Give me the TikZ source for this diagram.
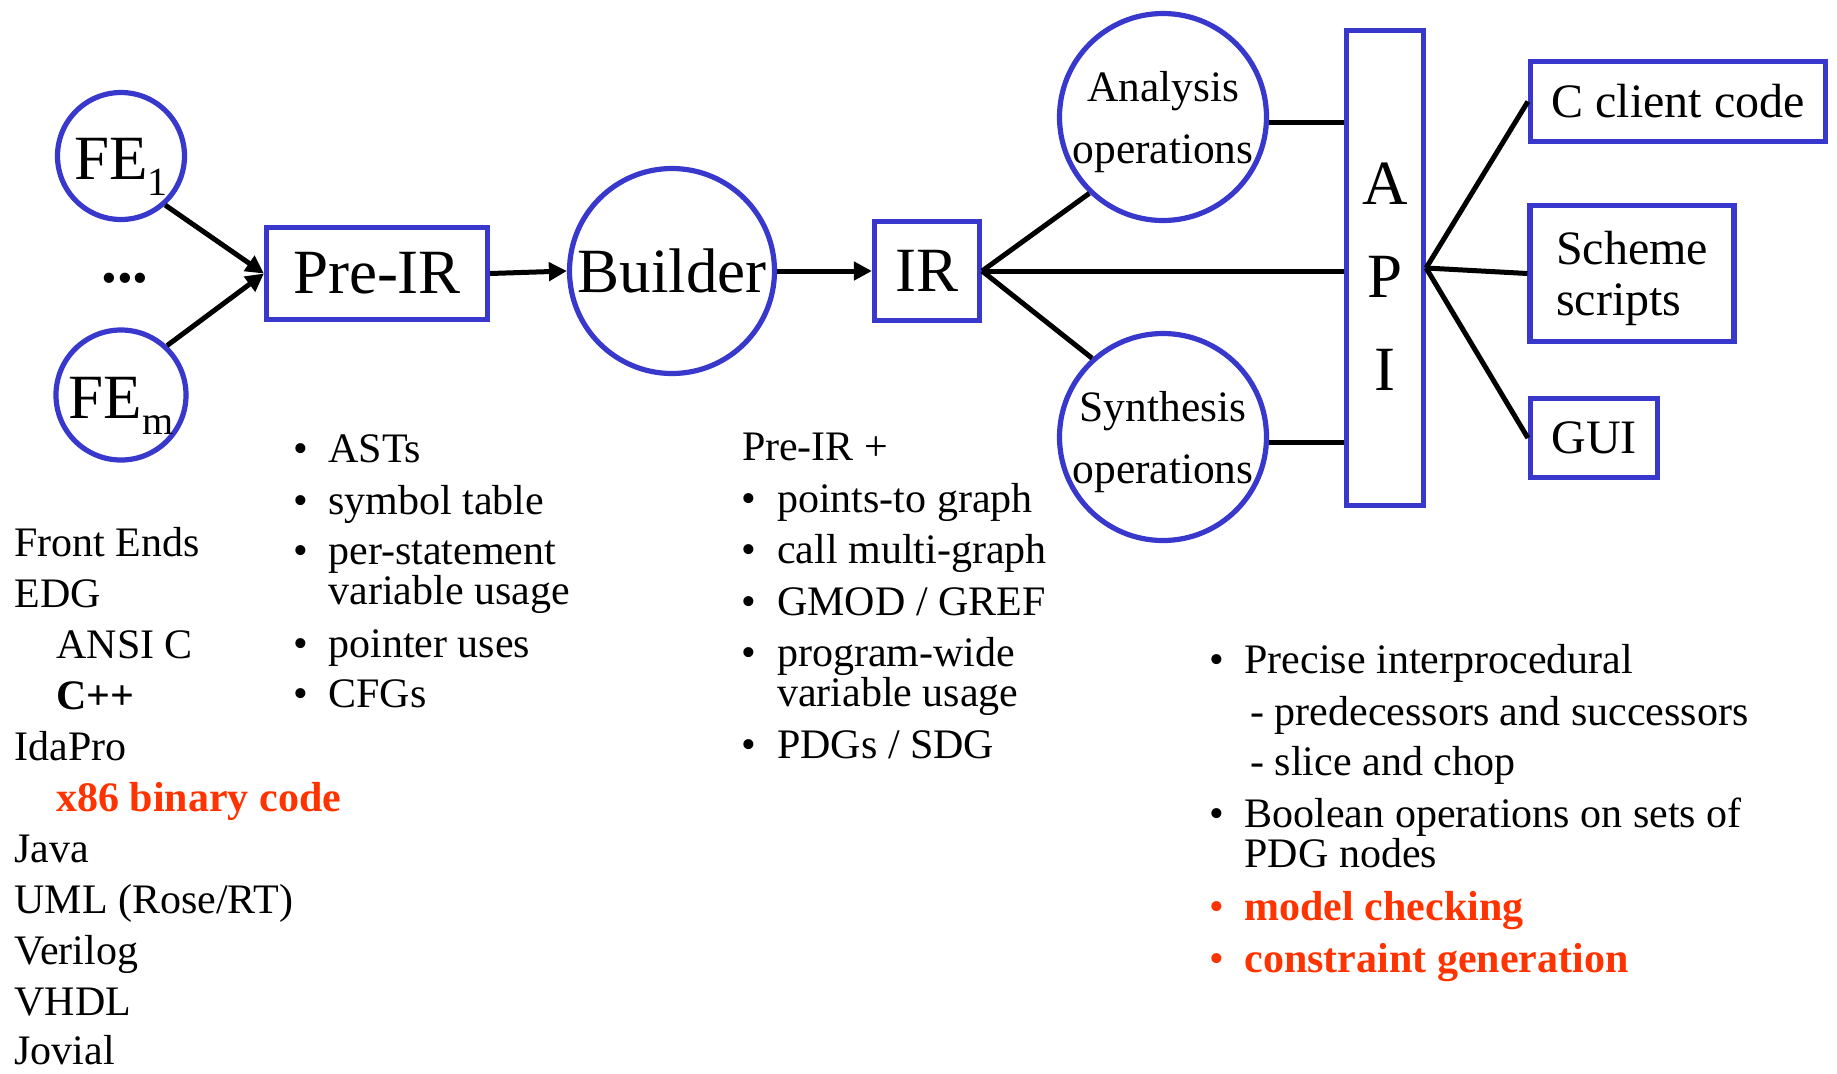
\documentclass[tikz,border=0pt]{standalone}
\usepackage{fontspec}
\setmainfont{Liberation Serif}
\usetikzlibrary{arrows.meta}
\definecolor{nodeblue}{RGB}{56,56,204}
\definecolor{hot}{RGB}{255,51,0}
\newcommand\lbl[4]{\node[lst] (#1) at (#2,#3) {#4};}
\newcommand\blt[6]{\node[lst,#6] (#1b) at (#2-6,#4) {\textbullet}; \node[lst,#6] (#1) at (#3,#4) {#5};}
\begin{document}
\begin{tikzpicture}[x=0.5pt,y=-0.5pt,
  blueline/.style={draw=nodeblue,line width=2.6pt},
  circ/.style={blueline,circle,inner sep=0pt,align=center},
  boxnode/.style={blueline,rectangle,inner sep=0pt,align=center},
  conn/.style={line width=2.5pt},
  arr/.style={conn,-{Triangle[length=9pt,width=9pt]}},
  big/.style={font=\fontsize{31.5}{37}\selectfont},
  mid/.style={font=\fontsize{21.7}{31}\selectfont},
  boxtxt/.style={font=\fontsize{24}{25.5}\selectfont},
  lst/.style={font=\fontsize{21}{25}\selectfont,anchor=base west,inner sep=0pt},
]
\useasboundingbox (0,0) rectangle (1837,1073);

% front ends
\node[circ,big,minimum size=63.5pt,text height=31pt,text depth=8pt] (fe1) at (121,156)
  {FE\raisebox{-8pt}{\fontsize{20}{20}\selectfont 1}};
\node[circ,big,minimum size=63.5pt,text height=31pt,text depth=8pt] (fem) at (121,395)
  {FE\raisebox{-8pt}{\fontsize{20}{20}\selectfont m}};
\node[font=\fontsize{31.5}{37}\selectfont\bfseries] (dots) at (125,278) {...};

% main chain
\node[boxnode,big,minimum width=110.5pt,minimum height=46pt] (preir) at (377,273.5) {Pre-IR};
\node[circ,big,minimum size=102.5pt] (builder) at (672,271) {Builder};
\node[boxnode,big,minimum width=52.5pt,minimum height=49.5pt] (ir) at (927,271) {IR};
\node[circ,mid,minimum size=103.5pt,text depth=0pt] (ana) at (1163,117) {Analysis\\operations};
\node[circ,mid,minimum size=103.5pt,text depth=0pt] (syn) at (1163,437) {Synthesis\\operations};
\node[boxnode,minimum width=38.5pt,minimum height=237.5pt] (api) at (1385,268) {};
\node[align=center,inner sep=0pt,font=\fontsize{31.5}{46.5}\selectfont] (apitxt) at (1385,277) {A\\P\\I};
\node[boxnode,boxtxt,minimum width=147.5pt,minimum height=40pt] (cc) at (1678,101.5) {C client code};
\node[boxnode,boxtxt,align=left,text depth=0pt,minimum width=102pt,minimum height=68pt] (scheme) at (1632,273.5) {Scheme\\scripts};
\node[boxnode,boxtxt,minimum width=63.5pt,minimum height=39.5pt] (gui) at (1594,438) {GUI};

% connectors
\draw[arr] (fe1.-48) -- (preir.west);
\draw[arr] (fem.47) -- (preir.west);
\draw[arr] (preir.east) -- (builder.west);
\draw[arr] (builder.east) -- (ir.west);
\draw[conn] (ir.east) -- (ana.226);
\draw[conn] (ir.east) -- (syn.132);
\draw[conn] (ir.east) -- (ir.east -| api.west);
\draw[conn] (ana.-3) -- (ana.-3 -| api.west);
\draw[conn] (syn.-3) -- (syn.-3 -| api.west);
\draw[conn] (api.east) -- (cc.west);
\draw[conn] (api.east) -- (scheme.west);
\draw[conn] (api.east) -- (gui.west);

% front end list
\lbl{l1}{14}{556.5}{Front Ends}
\lbl{l2}{14}{607.5}{EDG}
\lbl{l3}{56}{658.5}{ANSI C}
\lbl{l4}{56}{709.5}{\textbf{C++}}
\lbl{l5}{14}{760.5}{IdaPro}
\lbl{l6}{56}{811.5}{\textcolor{hot}{\textbf{x86 binary code}}}
\lbl{l7}{14}{862.5}{Java}
\lbl{l8}{14}{913.5}{UML (Rose/RT)}
\lbl{l9}{14}{964.5}{Verilog}
\lbl{l10}{14}{1015.5}{VHDL}
\lbl{l11}{14}{1064}{Jovial}

% Pre-IR list
\blt{p1}{298.7}{328}{462.8}{ASTs}{}
\blt{p2}{298.7}{328}{514.3}{symbol table}{}
\blt{p3}{298.7}{328}{564.7}{per-statement}{}
\lbl{p3b2}{328}{604.5}{variable usage}
\blt{p4}{298.7}{328}{657.3}{pointer uses}{}
\blt{p5}{298.7}{328}{707.6}{CFGs}{}

% IR list
\lbl{i0}{741.6}{460.4}{Pre-IR +}
\blt{i1}{747.5}{776.8}{512}{points-to graph}{}
\blt{i2}{747.5}{776.8}{563.5}{call multi-graph}{}
\blt{i3}{747.5}{776.8}{615}{GMOD / GREF}{}
\blt{i4}{747.5}{776.8}{666.6}{program-wide}{}
\lbl{i4b2}{776.8}{706.5}{variable usage}
\blt{i5}{747.5}{776.8}{758}{PDGs / SDG}{}

% operations list
\blt{o1}{1215}{1244.2}{673.7}{Precise interprocedural}{}
\lbl{o1a}{1250}{725.2}{- predecessors and successors}
\lbl{o1c}{1250}{775.6}{- slice and chop}
\blt{o2}{1215}{1244.2}{827.1}{Boolean operations on sets of}{}
\lbl{o2b2}{1244.2}{867}{PDG nodes}
\blt{o3}{1215}{1244.2}{920.9}{\textbf{model checking}}{text=hot}
\blt{o4}{1215}{1244.2}{972.4}{\textbf{constraint generation}}{text=hot}
\end{tikzpicture}
\end{document}
